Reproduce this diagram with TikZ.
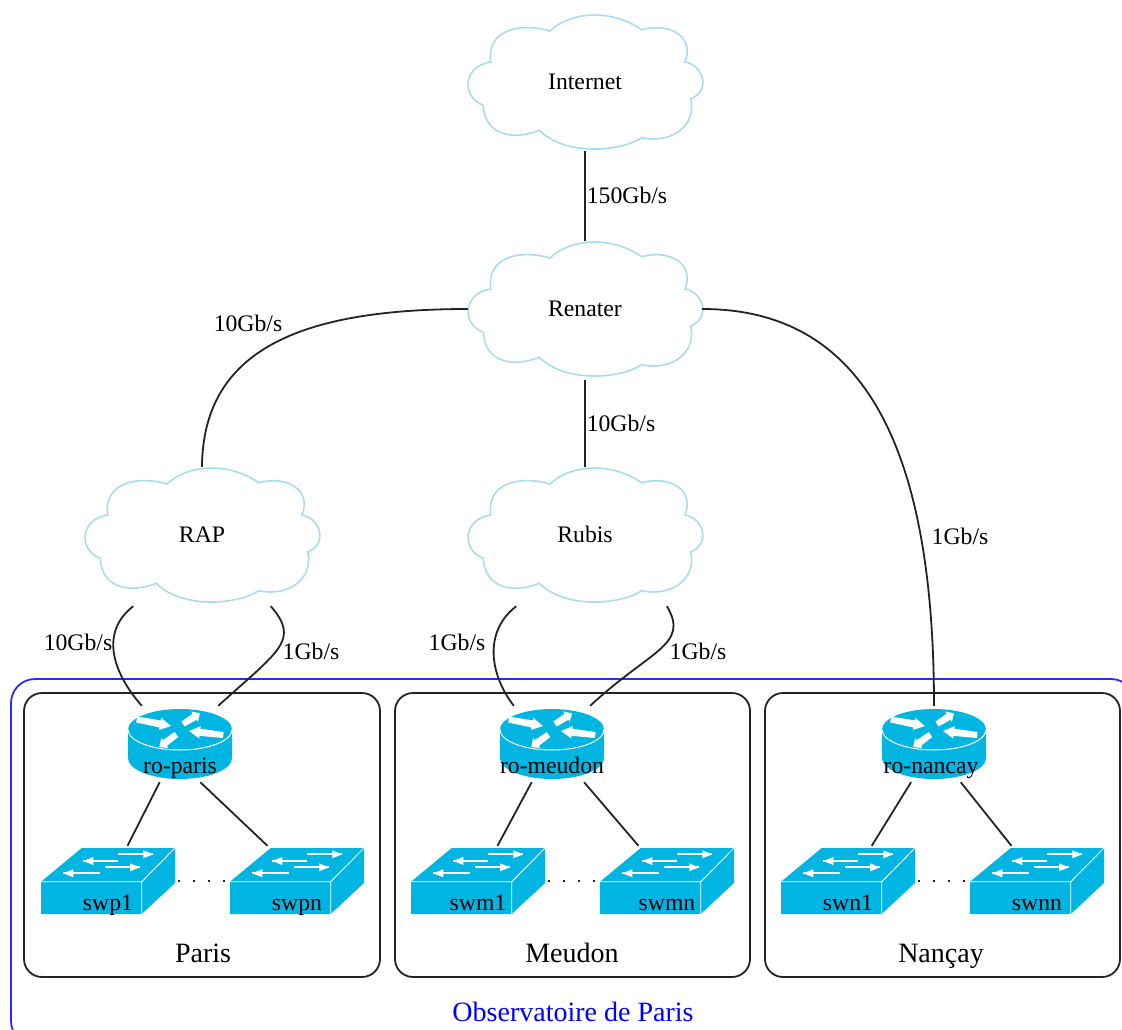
\documentclass[tikz,border=0pt]{standalone}
\usepackage{fontspec}
\setmainfont{Liberation Serif}
\usetikzlibrary{calc}
\definecolor{ciscoblue}{RGB}{0,181,226}
\definecolor{cloudline}{RGB}{168,220,240}
\definecolor{framedark}{RGB}{35,35,35}
\definecolor{frameblue}{RGB}{40,40,255}
\tikzset{
  x=1pt,y=-1pt,
  link/.style={draw=framedark,line width=1.8pt},
  dotsline/.style={draw=framedark,line width=1.7pt,dash pattern=on 2pt off 13pt,shorten >=2pt,shorten <=3pt},
  cloudbox/.style={inner sep=0pt,minimum width=234pt,minimum height=142pt,font=\fontsize{23.7}{26}\selectfont},
  routerbox/.style={inner sep=0pt,minimum width=104pt,minimum height=76pt,font=\fontsize{23.7}{26}\selectfont},
  switchbox/.style={inner sep=0pt,minimum width=134pt,minimum height=70pt,font=\fontsize{23.7}{26}\selectfont},
  sitebox/.style={draw=framedark,line width=1.8pt,rounded corners=18pt,inner sep=0pt},
  edgelabel/.style={inner sep=0pt,font=\fontsize{23.7}{26}\selectfont},
  sitelabel/.style={inner sep=0pt,anchor=base,font=\fontsize{28}{30}\selectfont},
}
\newcommand{\lowtext}[2]{\smash{\raisebox{-#1pt}{#2}}}
\newcommand{\cloudat}[4]{%
  \begin{scope}[shift={(#2,#3)}]
    \draw[cloudline,line width=1.6pt] (-35,-51)
      .. controls (-15,-70) and (25,-74) .. (56.7,-52.3)
      .. controls (85,-60) and (110,-45) .. (100,-20)
      .. controls (120,-16) and (125,10) .. (105.7,16.7)
      .. controls (112,45) and (85,62) .. (56.7,55.7)
      .. controls (35,70) and (-20,74) .. (-45.7,48.3)
      .. controls (-70,58) and (-100,55) .. (-101.7,23.3)
      .. controls (-124,15) and (-122,-16) .. (-94.3,-20)
      .. controls (-99,-52) and (-65,-60) .. (-35,-51) -- cycle;
    \node[cloudbox] (#1) at (0,0) {\lowtext{7}{#4}};
  \end{scope}}
\newcommand{\wedgearrow}[4]{%
  \coordinate (T) at (#1,#2); \coordinate (H) at (#3,#4);
  \fill[white] ($(T)!3pt!90:(H)$) -- ($(T)!.68!(H)!3.6pt!90:(H)$) -- ($(T)!.68!(H)!6.2pt!90:(H)$)
    -- (H) -- ($(T)!.68!(H)!6.2pt!-90:(H)$) -- ($(T)!.68!(H)!3.6pt!-90:(H)$) -- ($(T)!3pt!-90:(H)$) -- cycle;}
\newcommand{\routerat}[4]{%
  \begin{scope}[shift={(#2,#3)}]
    \fill[ciscoblue] (-52,-14.5) .. controls (-52,-25.8) and (-28.7,-35) .. (0,-35)
      .. controls (28.7,-35) and (52,-25.8) .. (52,-14.5) -- (52,14)
      .. controls (52,25.6) and (28.7,35) .. (0,35)
      .. controls (-28.7,35) and (-52,25.6) .. (-52,14) -- cycle;
    \draw[white,line width=1pt] (-52,-14.5) .. controls (-52,-3.2) and (-28.7,6) .. (0,6)
      .. controls (28.7,6) and (52,-3.2) .. (52,-14.5);
    \wedgearrow{-43.3}{-24.5}{-9}{-18}
    \wedgearrow{3}{-20}{20}{-30.7}
    \wedgearrow{43.3}{-9}{9}{-13}
    \wedgearrow{-3.5}{-9.5}{-20.7}{3}
    \node[routerbox] (#1) at (0,0) {\lowtext{29}{#4}};
  \end{scope}}
\newcommand{\thinarrow}[3]{% from x1 to x2 at height y
  \draw[white,line width=2pt] (#1,#3) -- (#2,#3);
  \coordinate (H) at (#2,#3); \coordinate (T) at (#1,#3);
  \fill[white] (H) -- ($(H)!10pt!(T)!4pt!90:(T)$) -- ($(H)!10pt!(T)!4pt!-90:(T)$) -- cycle;}
\newcommand{\switchat}[4]{%
  \begin{scope}[shift={(#2,#3)}]
    \fill[ciscoblue] (-26.3,-33) -- (67,-33) -- (67,2) -- (33.7,33) -- (-67,33) -- (-67,0.7) -- cycle;
    \draw[white,line width=.9pt] (-67,0.7) -- (33.7,0.7) -- (67,-33) (33.7,0.7) -- (33.7,33);
    \thinarrow{10.3}{45.3}{-26.7}
    \thinarrow{10.3}{-24.7}{-20}
    \thinarrow{-3}{32}{-13.7}
    \thinarrow{-8}{-44.7}{-7.7}
    \node[switchbox] (#1) at (0,0) {\lowtext{29}{#4}};
  \end{scope}}
\begin{document}
\begin{tikzpicture}
\useasboundingbox (0,0) rectangle (1122,1029);
\clip (0,0) rectangle (1122,1029);
% frames
\draw[frameblue,line width=1.8pt,rounded corners=24pt] (11,679) rectangle (1135,1045);
\node[sitebox,minimum width=356pt,minimum height=284pt] (paris) at (202,835) {};
\node[sitebox,minimum width=355pt,minimum height=284pt] (meudon) at (572.5,835) {};
\node[sitebox,minimum width=355pt,minimum height=284pt] (nancay) at (942.5,835) {};
% clouds
\cloudat{internet}{585}{82}{Internet}
\cloudat{renater}{585}{309}{Renater}
\cloudat{rap}{202}{535}{RAP}
\cloudat{rubis}{585}{535}{Rubis}
% routers
\routerat{ro-paris}{180}{744}{ro-paris}
\routerat{ro-meudon}{552}{744}{ro-meudon}
\routerat{ro-nancay}{934}{744}{\kern-6pt ro-nancay}
% switches
\switchat{swp1}{108}{881}{swp1}
\switchat{swpn}{297}{881}{swpn}
\switchat{swm1}{478}{881}{swm1}
\switchat{swmn}{667}{881}{swmn}
\switchat{swn1}{848}{881}{swn1}
\switchat{swnn}{1037}{881}{swnn}
% backbone links
\draw[link,shorten <=-2pt,shorten >=-3pt] (internet.south) -- (renater.north);
\draw[link,shorten >=-3pt] (renater.south) -- (rubis.north);
\draw[link,shorten >=-3pt] (renater.west) .. controls (300,309) and (203,350) .. (rap.north);
\draw[link] (renater.east) .. controls (860,309) and (934,440) .. (ro-nancay.90);
% cloud to router
\draw[link] (rap.-134) .. controls (100,632) and (112,672) .. (ro-paris.135);
\draw[link] (rap.-46) .. controls (300,640) and (280,650) .. (ro-paris.45);
\draw[link] (rubis.-134) .. controls (483,632) and (490,675) .. (ro-meudon.135);
\draw[link] (rubis.-41.6) .. controls (690,645) and (650,650) .. (ro-meudon.45);
% router to switch
\draw[link] (ro-paris.-118) -- (swp1.61.5);
\draw[link] (ro-paris.-62) -- (swpn.130.6);
\draw[link] (ro-meudon.-118) -- (swm1.61.5);
\draw[link] (ro-meudon.-50.8) -- (swmn.129.6);
\draw[link] (ro-nancay.-121) -- (swn1.56.7);
\draw[link] (ro-nancay.-55.6) -- (swnn.126.6);
% dotted
\draw[dotsline] (swp1.east) -- (swpn.west);
\draw[dotsline] (swm1.east) -- (swmn.west);
\draw[dotsline] (swn1.east) -- (swnn.west);
% labels
\node[edgelabel] (l1) at (627,195) {150Gb/s};
\node[edgelabel] (l2) at (248,323) {10Gb/s};
\node[edgelabel] (l3) at (621,423) {10Gb/s};
\node[edgelabel] (l4) at (960,536) {1Gb/s};
\node[edgelabel] (l5) at (78,642) {10Gb/s};
\node[edgelabel] (l6) at (311,651) {1Gb/s};
\node[edgelabel] (l7) at (457,642) {1Gb/s};
\node[edgelabel] (l8) at (698,651) {1Gb/s};
\node[sitelabel] (t1) at (203,962) {Paris};
\node[sitelabel] (t2) at (572,962) {Meudon};
\node[sitelabel] (t3) at (941,962) {Nançay};
\node[sitelabel,text=blue] (t4) at (573,1021) {Observatoire de Paris};
\end{tikzpicture}
\end{document}
